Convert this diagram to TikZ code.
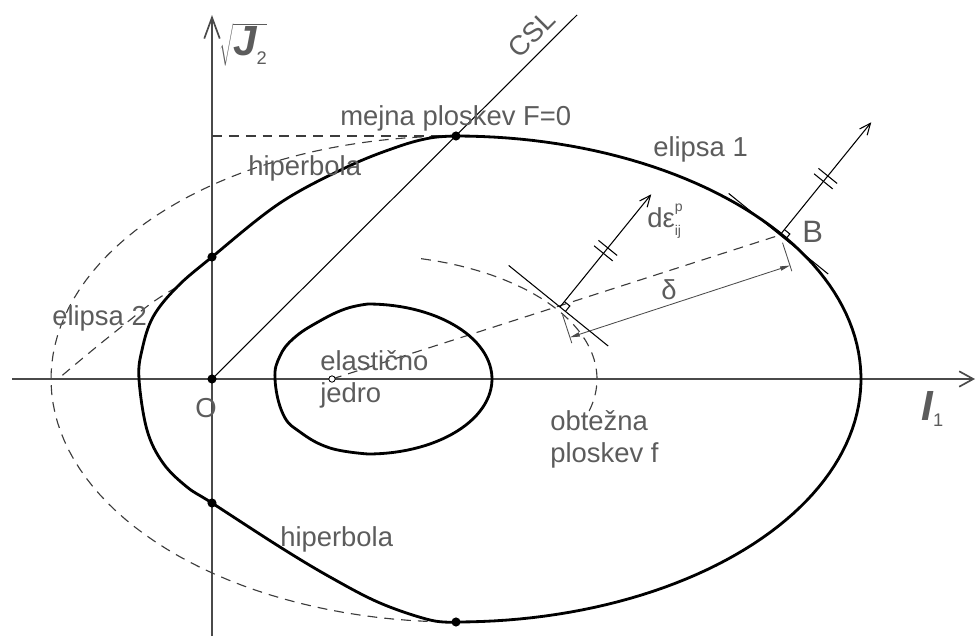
\documentclass[tikz,border=0pt]{standalone}
\usepackage{fontspec}
\setmainfont{Liberation Sans}
\usetikzlibrary{arrows.meta}
\definecolor{axisgray}{HTML}{4A4A4A}
\definecolor{textgray}{HTML}{5C5C5C}
\definecolor{dashgray}{HTML}{3C3C3C}

\tikzset{
  pics/normalmark/.style={code={
    \draw[thinline] (0,-66) -- (0,62);
    \draw[thinline] (7,0) -- (7,7) -- (0,7);
    \draw[thinline,-{Straight Barb[length=8pt,width=7pt]}] (0,0) -- (145,0);
    \draw[thinline] (69,-12) -- (69,12) (76,-12) -- (76,12);
  }}
}

\begin{document}
\begin{tikzpicture}[
  x=0.025cm, y=-0.025cm,
  curve/.style={line width=2pt,draw=black,line join=round},
  axis/.style={line width=1.2pt,draw=axisgray},
  thinline/.style={line width=0.75pt,draw=black},
  dashline/.style={line width=0.8pt,draw=dashgray,dash pattern=on 7pt off 5pt},
  dimline/.style={line width=0.6pt,draw=axisgray},
  label/.style={text=textgray,inner sep=0pt,font=\fontsize{19.5}{22}\selectfont},
  dot/.style={circle,fill=black,inner sep=0pt,minimum size=6.5pt},
  ring/.style={circle,draw=black,fill=white,line width=0.6pt,inner sep=0pt,minimum size=4.5pt}
]
\useasboundingbox (0,0) rectangle (976,639);

% points
\coordinate (O) at (212,379);
\coordinate (A) at (560,307);
\coordinate (B) at (780,235);
\coordinate (C) at (332,379);
\coordinate (Ftop) at (456,136);
\coordinate (Fbot) at (456,622);
\coordinate (Jtop) at (212,136);
\coordinate (CSLend) at (577,15);
\coordinate (xstart) at (12,379);
\coordinate (xend) at (975,379);
\coordinate (ystart) at (212,636);
\coordinate (yend) at (212,15);

% axes
\draw[axis,-{Straight Barb[length=10pt,width=11pt]}] (xstart) -- (xend);
\draw[axis,-{Straight Barb[length=15pt,width=11pt]}] (ystart) -- (yend);

% dashed helpers
\draw[dashline] (Jtop) -- (Ftop);
\draw[dashline] plot[domain=90:270,samples=80] ({456+405*cos(\x)},{379-243*sin(\x)});
\draw[dashline] plot[smooth,tension=0.6] coordinates {(177,287) (153,302) (125,324) (100,344) (77,363) (58,379)};
\draw[dashline] plot[domain=76:-18,samples=60] ({365+232*cos(\x)},{379-124*sin(\x)});
\draw[dashline] (C) -- (B);

% CSL
\draw[thinline] (O) -- (CSLend);

% normals at A and B
\pic[rotate=51] at (A) {normalmark};
\pic[rotate=51] at (B) {normalmark};

% delta dimension
\begin{scope}[shift={(A)},rotate=18.1]
\coordinate (dA) at (0,32);
\coordinate (dB) at (231.5,32);
\draw[dimline] (0,8) -- (0,38) (231.5,8) -- (231.5,38);
\draw[dimline,{Triangle[length=7pt,width=3pt]}-{Triangle[length=7pt,width=3pt]}] (dA) -- (dB);
\end{scope}

% limit surface F=0
\draw[curve] plot[domain=90:-90,samples=100] ({456+405*cos(\x)},{379-243*sin(\x)});
\draw[curve] plot[smooth,tension=0.6] coordinates {(456,622) (430,620) (380,603) (330,577) (280,547) (212,503) (187,487) (163,463) (147,430) (139,379) (142,350) (153,317) (177,287) (212,257) (280,203) (347,167) (397,147) (430,138) (456,136)};

% elastic core
\draw[curve] plot[domain=90:-90,samples=60] ({368+124*cos(\x)},{379-75*sin(\x)});
\draw[curve] plot[smooth,tension=0.7] coordinates {(368,454) (330,448) (300,432) (283,414) (275,379) (280,356) (294,338) (318,322) (345,309) (368,304)};

% dots
\node[dot] (dO) at (O) {};
\node[dot] (dtop) at (Ftop) {};
\node[dot] (dbot) at (Fbot) {};
\node[dot] (dup) at (212,257) {};
\node[dot] (ddown) at (212,503) {};
\node[ring] (cC) at (C) {};

% labels
\node[label,rotate=45] (csl) at (532,34) {CSL};
\node[label,anchor=base west] (mejna) at (340,125) {mejna ploskev F=0};
\node[label,anchor=base west] (el1) at (653,156) {elipsa 1};
\node[label,anchor=base west] (hipup) at (248,175) {hiperbola};
\node[label,anchor=base west] (el2) at (52,325) {elipsa 2};
\node[label,anchor=base west] (elast) at (320,370) {elastično};
\node[label,anchor=base west] (jedro) at (320,402) {jedro};
\node[label,anchor=base west] (olab) at (195,417) {O};
\node[label,anchor=base west] (obt) at (550,430) {obtežna};
\node[label,anchor=base west] (plo) at (550,462) {ploskev f};
\node[label,anchor=base west] (hipdown) at (280,546) {hiperbola};
\node[label,anchor=base west,font=\fontsize{22}{24}\selectfont] (blab) at (802,242) {B};
\node[label] (delta) at (669,290) {δ};
\node[label,anchor=base west] (deps) at (647,227) {dε\rlap{\raisebox{1.1ex}{\fontsize{10}{10}\selectfont p}}\raisebox{-0.6ex}{\fontsize{10}{10}\selectfont ij}};
\node[label,anchor=base west] (ilab) at (921,420) {\fontsize{30}{30}\selectfont\bfseries\itshape I\raisebox{-0.3ex}{\fontsize{13}{13}\selectfont\mdseries\upshape 1}};
\node[label] (jlab) at (243,45) {$\sqrt{\hbox{\fontsize{30}{30}\selectfont\bfseries\itshape J\raisebox{-0.4ex}{\fontsize{13}{13}\selectfont\mdseries\upshape 2}}}$};
\end{tikzpicture}
\end{document}
